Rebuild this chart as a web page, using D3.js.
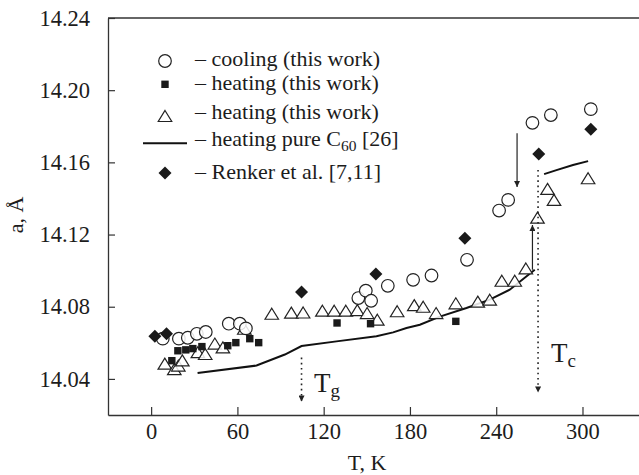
<!DOCTYPE html>
<html>
<head>
<meta charset="utf-8">
<script src="https://cdn.jsdelivr.net/npm/d3@7"></script>
<style>
  body { margin: 0; background: #fff; }
  text { font-family: 'Liberation Serif', 'Times New Roman', Times, 'DejaVu Serif', serif; fill: #1c1c1c; }
</style>
</head>
<body>
<script>
// data: [T in K, lattice parameter a in Å]
const cooling = [[8.1,14.0623],[19.3,14.0623],[25.5,14.0628],[31.8,14.065],[38,14.066],[54,14.0706],[61.7,14.0706],[65.9,14.068],
  [144.1,14.0848],[149.3,14.0889],[153,14.0833],[164.6,14.0916],[182.2,14.0949],[195,14.0973],[219.7,14.106],
  [242,14.1333],[248.3,14.1392],[265.2,14.1819],[278,14.1862],[305.8,14.1895]];
const heatingSq = [[14.4,14.0501],[18.6,14.0556],[24.1,14.0561],[29,14.0568],[35.3,14.0579],[53.3,14.0584],[58.9,14.0601],
  [68.6,14.0623],[74.8,14.0601],[129.3,14.071],[152.6,14.0706],[211.9,14.0719]];
const heatingTri = [[9.5,14.0485],[16.1,14.0454],[18.9,14.0474],[21.7,14.0503],[32.5,14.0548],[37.6,14.0538],[44.3,14.0596],
  [49.9,14.0575],[64.8,14.0678],[83.9,14.0761],[97.5,14.0767],[105.7,14.0768],[119.1,14.0778],[127.3,14.0778],[135.4,14.0778],
  [143.4,14.0781],[150.2,14.0765],[157.3,14.0728],[171.1,14.0775],[183,14.0809],[189.2,14.08],[198.2,14.0765],[211.9,14.0819],
  [227.2,14.0828],[235.5,14.0839],[243.9,14.0944],[252.9,14.0944],[260.6,14.1012],[268.7,14.1294],[275.7,14.1453],
  [280.2,14.1392],[303.9,14.1512]];
const pureC60a = [[32.3,14.0433],[73.3,14.0474],[93,14.0535],[104.6,14.0582],[128.9,14.0608],[156.7,14.0636],[168.3,14.0658],
  [177.6,14.0682],[186.9,14.07],[200.8,14.0745],[219.3,14.0793],[235.5,14.0839],[249.4,14.0894],[266.8,14.1005]];
const pureC60b = [[273.3,14.1535],[281.9,14.1557],[293.4,14.1585],[303.9,14.1607]];
const renker = [[2.6,14.0636],[10.7,14.065],[104.6,14.0881],[156.3,14.0981],[218.2,14.118],[269.6,14.1646],[305.8,14.1784]];

const xTicks = [0, 60, 120, 180, 240, 300];
const yTicks = [14.04, 14.08, 14.12, 14.16, 14.20, 14.24];
const legendLabels = ['– cooling (this work)', '– heating (this work)', '– heating (this work)', '– heating pure C', '– Renker et al. [7,11]'];

// arrows: [T, a from, a to]
const dottedArrows = [[104.6, 14.0518, 14.0275], [269.1, 14.1558, 14.0324]];
const solidArrows = [[254.5, 14.1762, 14.1464], [265.2, 14.1005, 14.1253]];

const width = 639, height = 475;
const serif = "'Liberation Serif', 'Times New Roman', Times, serif";

const x = d3.scaleLinear().domain([-30, 340]).range([108, 640]);
const y = d3.scaleLinear().domain([14.02, 14.24]).range([415, 18]);

const svg = d3.select('body').append('svg')
  .attr('width', width)
  .attr('height', height);

const defs = svg.append('defs');
defs.append('marker')
  .attr('id', 'head')
  .attr('viewBox', '0 0 10 10')
  .attr('refX', 10).attr('refY', 5)
  .attr('markerWidth', 10).attr('markerHeight', 6)
  .attr('markerUnits', 'userSpaceOnUse')
  .attr('orient', 'auto')
  .append('path').attr('d', 'M0,0 L10,5 L0,10 z').attr('fill', '#222');

// axes
const ink = '#333';
const yAxis = d3.axisLeft(y).tickValues(yTicks).tickFormat(d3.format('.2f'))
  .tickSizeInner(-7).tickSizeOuter(0).tickPadding(18);
const gy = svg.append('g').attr('transform', 'translate(108,0)').call(yAxis);

const xAxis = d3.axisBottom(x).tickValues(xTicks).tickFormat(d3.format('d'))
  .tickSizeInner(-8).tickSizeOuter(0).tickPadding(8);
const gx = svg.append('g').attr('transform', 'translate(0,415)').call(xAxis);

[gx, gy].forEach(g => {
  g.attr('font-family', serif);
  g.select('.domain').attr('stroke', ink).attr('stroke-width', 1.3);
  g.selectAll('.tick line').attr('stroke', ink).attr('stroke-width', 1.2);
  g.selectAll('.tick text').attr('font-size', 22.5).attr('fill', '#1c1c1c');
});

svg.append('line')
  .attr('x1', 108).attr('x2', 640)
  .attr('y1', 18).attr('y2', 18)
  .attr('stroke', ink).attr('stroke-width', 1.3);

// axis titles
svg.append('text')
  .attr('transform', 'translate(23,215) rotate(-90)')
  .attr('text-anchor', 'middle')
  .attr('font-size', 22)
  .text('a, Å');

svg.append('text')
  .attr('x', 367).attr('y', 470)
  .attr('text-anchor', 'middle')
  .attr('font-size', 22)
  .text('T, K');

// pure C60 curve
const line = d3.line().x(d => x(d[0])).y(d => y(d[1]));
[pureC60a, pureC60b].forEach(seg => {
  svg.append('path')
    .datum(seg)
    .attr('d', line)
    .attr('fill', 'none')
    .attr('stroke', '#111')
    .attr('stroke-width', 2);
});

// marker shapes
const triPath = (w, h) => `M0,${-h / 2}L${w / 2},${h / 2}L${-w / 2},${h / 2}Z`;
const diamondPath = (w, h) => `M0,${-h / 2}L${w / 2},0L0,${h / 2}L${-w / 2},0Z`;

svg.append('g').selectAll('path')
  .data(heatingTri)
  .join('path')
  .attr('d', triPath(13.5, 11))
  .attr('transform', d => `translate(${x(d[0])},${y(d[1])})`)
  .attr('fill', '#fff')
  .attr('fill-opacity', 0.85)
  .attr('stroke', '#222')
  .attr('stroke-width', 1.2);

svg.append('g').selectAll('circle')
  .data(cooling)
  .join('circle')
  .attr('cx', d => x(d[0]))
  .attr('cy', d => y(d[1]))
  .attr('r', 6.3)
  .attr('fill', '#fff')
  .attr('fill-opacity', 0.85)
  .attr('stroke', '#222')
  .attr('stroke-width', 1.2);

svg.append('g').selectAll('rect')
  .data(heatingSq)
  .join('rect')
  .attr('x', d => x(d[0]) - 3.7)
  .attr('y', d => y(d[1]) - 3.7)
  .attr('width', 7.4)
  .attr('height', 7.4)
  .attr('fill', '#1a1a1a');

svg.append('g').selectAll('path')
  .data(renker)
  .join('path')
  .attr('d', diamondPath(13, 13))
  .attr('transform', d => `translate(${x(d[0])},${y(d[1])})`)
  .attr('fill', '#1a1a1a');

// annotations
svg.append('g').selectAll('line')
  .data(dottedArrows)
  .join('line')
  .attr('x1', d => x(d[0])).attr('x2', d => x(d[0]))
  .attr('y1', d => y(d[1])).attr('y2', d => y(d[2]))
  .attr('stroke', '#222')
  .attr('stroke-width', 1.6)
  .attr('stroke-dasharray', '1.6,3.6')
  .attr('marker-end', 'url(#head)');

svg.append('g').selectAll('line')
  .data(solidArrows)
  .join('line')
  .attr('x1', d => x(d[0])).attr('x2', d => x(d[0]))
  .attr('y1', d => y(d[1])).attr('y2', d => y(d[2]))
  .attr('stroke', '#222')
  .attr('stroke-width', 1.2)
  .attr('marker-end', 'url(#head)');

const tg = svg.append('text').attr('x', 314).attr('y', 392).attr('font-size', 27);
tg.append('tspan').text('T');
tg.append('tspan').attr('font-size', 19).attr('dy', 5).text('g');

const tc = svg.append('text').attr('x', 551).attr('y', 362).attr('font-size', 27);
tc.append('tspan').text('T');
tc.append('tspan').attr('font-size', 19).attr('dy', 5).text('c');

// legend
const lx = 165, tx = 195;
const rowY = [66, 90, 119, 146, 179];
const symY = [61, 84.3, 116, 143.3, 173];

svg.append('circle').attr('cx', lx).attr('cy', symY[0]).attr('r', 6.3)
  .attr('fill', '#fff').attr('stroke', '#222').attr('stroke-width', 1.2);
svg.append('rect').attr('x', lx - 3.7).attr('y', symY[1] - 3.7).attr('width', 7.4).attr('height', 7.4)
  .attr('fill', '#1a1a1a');
svg.append('path').attr('d', triPath(13.5, 11)).attr('transform', `translate(${lx},${symY[2]})`)
  .attr('fill', '#fff').attr('stroke', '#222').attr('stroke-width', 1.2);
svg.append('line').attr('x1', 143).attr('x2', 187).attr('y1', symY[3]).attr('y2', symY[3])
  .attr('stroke', '#111').attr('stroke-width', 2);
svg.append('path').attr('d', diamondPath(13, 13)).attr('transform', `translate(${lx},${symY[4]})`)
  .attr('fill', '#1a1a1a');

legendLabels.forEach((label, i) => {
  const t = svg.append('text').attr('x', tx).attr('y', rowY[i]).attr('font-size', 22);
  t.append('tspan').text(label);
  if (i === 3) {
    t.append('tspan').attr('font-size', 15.5).attr('dy', 5).text('60');
    t.append('tspan').attr('dy', -5).text(' [26]');
  }
});
</script>
</body>
</html>
